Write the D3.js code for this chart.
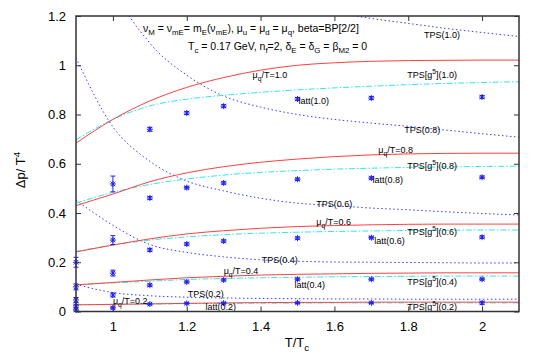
<!DOCTYPE html>
<html>
<head>
<meta charset="utf-8">
<script src="https://cdn.jsdelivr.net/npm/d3@7"></script>
<style>
  body { margin: 0; background: #fff; }
  text { font-family: "Liberation Sans", Arial, sans-serif; }
</style>
</head>
<body>
<div id="chart"></div>
<script>
// T/Tc grid for the model curves
const tGrid = [0.9, 1.0, 1.1, 1.2, 1.3, 1.4, 1.5, 1.6, 1.7, 1.8, 1.9, 2.0, 2.1];

// red: mu_q/T = ...
const red02 = [0.027, 0.029, 0.031, 0.033, 0.035, 0.036, 0.037, 0.037, 0.038, 0.038, 0.038, 0.038, 0.038];
const red04 = [0.108, 0.118, 0.128, 0.137, 0.143, 0.148, 0.151, 0.153, 0.155, 0.156, 0.157, 0.157, 0.157];
const red06 = [0.242, 0.270, 0.295, 0.315, 0.328, 0.338, 0.345, 0.349, 0.352, 0.354, 0.355, 0.355, 0.355];
const red08 = [0.430, 0.477, 0.527, 0.563, 0.588, 0.606, 0.619, 0.629, 0.636, 0.640, 0.642, 0.643, 0.643];
const red10 = [0.684, 0.780, 0.855, 0.910, 0.950, 0.980, 1.000, 1.010, 1.016, 1.019, 1.020, 1.021, 1.021];

// cyan: TPS[g^5]
const g5_02 = [0.027, 0.029, 0.030, 0.032, 0.033, 0.034, 0.034, 0.035, 0.035, 0.035, 0.035, 0.035, 0.035];
const g5_04 = [0.108, 0.116, 0.123, 0.130, 0.134, 0.137, 0.139, 0.141, 0.142, 0.143, 0.144, 0.144, 0.144];
const g5_06 = [0.244, 0.270, 0.290, 0.303, 0.312, 0.318, 0.322, 0.325, 0.327, 0.329, 0.330, 0.331, 0.331];
const g5_08 = [0.440, 0.484, 0.516, 0.538, 0.554, 0.565, 0.572, 0.578, 0.582, 0.585, 0.587, 0.589, 0.590];
const g5_10 = [0.697, 0.780, 0.835, 0.862, 0.878, 0.890, 0.900, 0.908, 0.915, 0.921, 0.926, 0.930, 0.933];

// blue dotted: TPS
const tps02 = [0.110, 0.077, 0.064, 0.058, 0.055, 0.053, 0.052, 0.051, 0.051, 0.050, 0.050, 0.050, 0.050];
const tps04 = [0.452, 0.350, 0.272, 0.240, 0.222, 0.210, 0.204, 0.201, 0.200, 0.199, 0.198, 0.197, 0.197];
const tps06 = [1.030, 0.750, 0.610, 0.530, 0.490, 0.460, 0.440, 0.430, 0.420, 0.413, 0.405, 0.398, 0.392];
const tps08 = [1.830, 1.330, 1.090, 0.960, 0.875, 0.830, 0.800, 0.780, 0.765, 0.752, 0.737, 0.722, 0.708];
const tps10 = [2.900, 2.100, 1.720, 1.500, 1.380, 1.300, 1.250, 1.215, 1.190, 1.170, 1.150, 1.133, 1.117];

// lattice points
const lattT = [0.9, 1.0, 1.1, 1.2, 1.3, 1.5, 1.7, 2.0];
const latt02 = [0.006, 0.015, 0.030, 0.033, 0.034, 0.035, 0.035, 0.035];
const latt04 = [0.023, 0.067, 0.107, 0.120, 0.128, 0.131, 0.131, 0.131];
const latt06 = [0.047, 0.156, 0.250, 0.274, 0.286, 0.298, 0.300, 0.302];
const latt08 = [0.100, 0.290, 0.461, 0.503, 0.522, 0.537, 0.542, 0.545];
const latt10 = [0.200, 0.518, 0.740, 0.806, 0.834, 0.863, 0.867, 0.871];
const err02 = [0.004, 0.004, 0.003, 0.003, 0.003, 0.003, 0.003, 0.006];
const err04 = [0.006, 0.008, 0.005, 0.004, 0.004, 0.004, 0.004, 0.004];
const err06 = [0.010, 0.012, 0.006, 0.005, 0.005, 0.005, 0.005, 0.005];
const err08 = [0.012, 0.018, 0.006, 0.005, 0.005, 0.005, 0.005, 0.005];
const err10 = [0.020, 0.032, 0.008, 0.006, 0.006, 0.006, 0.006, 0.006];

const xTicks = [1, 1.2, 1.4, 1.6, 1.8, 2];
const yTicks = [0, 0.2, 0.4, 0.6, 0.8, 1, 1.2];

// curve labels (text, T/Tc, value)
const labels = [
  ["TPS(1.0)", 1.843, 1.111],
  ["μ_{q}/T=1.0", 1.378, 0.948],
  ["TPS[g^{5}](1.0)", 1.797, 0.948],
  ["latt(1.0)", 1.503, 0.843],
  ["TPS(0.8)", 1.789, 0.725],
  ["μ_{q}/T=0.8", 1.719, 0.644],
  ["TPS[g^{5}](0.8)", 1.797, 0.579],
  ["latt(0.8)", 1.703, 0.522],
  ["TPS(0.6)", 1.551, 0.424],
  ["μ_{q}/T=0.6", 1.551, 0.351],
  ["TPS[g^{5}](0.6)", 1.797, 0.311],
  ["latt(0.6)", 1.708, 0.274],
  ["TPS(0.4)", 1.403, 0.197],
  ["μ_{q}/T=0.4", 1.300, 0.152],
  ["TPS[g^{5}](0.4)", 1.797, 0.108],
  ["latt(0.4)", 1.492, 0.095],
  ["TPS(0.2)", 1.203, 0.059],
  ["μ_{q}/T=0.2", 1.000, 0.030],
  ["latt(0.2)", 1.251, 0.006],
  ["TPS[g^{5}](0.2)", 1.797, 0.006]
];

const title1 = "ν_{M} = ν_{mE}= m_{E}(ν_{mE}), μ_{u} = μ_{d} = μ_{q}, beta=BP[2/2]";
const title2 = "T_{c} = 0.17 GeV, n_{f}=2, δ_{E} = δ_{G} = β_{M2} = 0";

const width = 545, height = 354;
const margin = { top: 16, right: 26, bottom: 42.5, left: 76 };
const innerW = width - margin.left - margin.right;
const innerH = height - margin.top - margin.bottom;

const svg = d3.select("#chart").append("svg")
    .attr("width", width)
    .attr("height", height);

const g = svg.append("g")
    .attr("transform", "translate(" + margin.left + "," + margin.top + ")");

const x = d3.scaleLinear().domain([0.9, 2.1]).range([0, innerW]);
const y = d3.scaleLinear().domain([0, 1.2]).range([innerH, 0]);

g.append("clipPath").attr("id", "clip")
  .append("rect").attr("width", innerW).attr("height", innerH);

// gnuplot style "enhanced" text with _{} and ^{}
function richText(sel, str, fs) {
    const parts = str.split(/([_^]\{[^}]*\})/).filter(s => s.length);
    let shift = 0;
    parts.forEach(p => {
        let t, s = 0, size = fs;
        if (p[0] === "_" || p[0] === "^") {
            t = p.slice(2, -1);
            s = p[0] === "_" ? fs * 0.3 : -fs * 0.4;
            size = fs * 0.75;
        } else {
            t = p;
        }
        sel.append("tspan")
            .attr("dy", s - shift)
            .attr("font-size", size)
            .text(t);
        shift = s;
    });
}

// axes, ticks pointing inward
const fmt = d => String(+d.toFixed(1));
const tickStyle = a => {
    a.select(".domain").remove();
    a.selectAll("line").attr("stroke", "#333").attr("stroke-width", 1);
    a.selectAll("text").attr("fill", "#000").attr("font-size", 13)
        .attr("font-family", "Liberation Sans, Arial, sans-serif");
};

g.append("g").attr("transform", "translate(0," + innerH + ")")
    .call(d3.axisBottom(x).tickValues(xTicks).tickFormat(fmt).tickSize(-5).tickPadding(10))
    .call(tickStyle);
g.append("g")
    .call(d3.axisTop(x).tickValues(xTicks).tickFormat("").tickSize(-5))
    .call(tickStyle);
g.append("g")
    .call(d3.axisLeft(y).tickValues(yTicks).tickFormat(fmt).tickSize(-5).tickPadding(10))
    .call(tickStyle);
g.append("g").attr("transform", "translate(" + innerW + ",0)")
    .call(d3.axisRight(y).tickValues(yTicks).tickFormat("").tickSize(-5))
    .call(tickStyle);

// curves
const line = vals => d3.line()
    .x((d, i) => x(tGrid[i]))
    .y(d => y(d))
    .curve(d3.curveMonotoneX)(vals);

const curves = g.append("g").attr("clip-path", "url(#clip)");

[tps02, tps04, tps06, tps08, tps10].forEach(v => {
    curves.append("path").attr("d", line(v))
        .attr("fill", "none").attr("stroke", "#3b3bff")
        .attr("stroke-width", 1).attr("stroke-dasharray", "1.5,2.5");
});
[g5_02, g5_04, g5_06, g5_08, g5_10].forEach(v => {
    curves.append("path").attr("d", line(v))
        .attr("fill", "none").attr("stroke", "#2ee8e8")
        .attr("stroke-width", 1).attr("stroke-dasharray", "6,2,1.5,2");
});
[red02, red04, red06, red08, red10].forEach(v => {
    curves.append("path").attr("d", line(v))
        .attr("fill", "none").attr("stroke", "#ff4040")
        .attr("stroke-width", 1);
});

// lattice points with error bars
const pts = g.append("g").attr("stroke", "#2222ee").attr("stroke-width", 1).attr("fill", "none");
[[latt02, err02], [latt04, err04], [latt06, err06], [latt08, err08], [latt10, err10]].forEach(([vals, errs]) => {
    vals.forEach((v, i) => {
        const cx = x(lattT[i]), cy = y(v);
        const y0 = y(v - errs[i]), y1 = y(v + errs[i]);
        pts.append("line").attr("x1", cx).attr("x2", cx).attr("y1", y0).attr("y2", y1);
        pts.append("line").attr("x1", cx - 2.5).attr("x2", cx + 2.5).attr("y1", y0).attr("y2", y0);
        pts.append("line").attr("x1", cx - 2.5).attr("x2", cx + 2.5).attr("y1", y1).attr("y2", y1);
        const r = 3;
        pts.append("path")
            .attr("d", `M${cx - r},${cy}H${cx + r}M${cx},${cy - r}V${cy + r}` +
                       `M${cx - r * 0.75},${cy - r * 0.75}L${cx + r * 0.75},${cy + r * 0.75}` +
                       `M${cx - r * 0.75},${cy + r * 0.75}L${cx + r * 0.75},${cy - r * 0.75}`);
    });
});

// labels on curves
labels.forEach(([t, lx, ly]) => {
    const tx = g.append("text")
        .attr("x", x(lx)).attr("y", y(ly))
        .attr("font-size", 9).attr("fill", "#000");
    richText(tx, t, 9);
});

// frame
g.append("rect").attr("width", innerW).attr("height", innerH)
    .attr("fill", "none").attr("stroke", "#333").attr("stroke-width", 1.5);

// title lines
const t1 = svg.append("text").attr("x", 143).attr("y", 32).attr("font-size", 10.5);
richText(t1, title1, 10.5);
const t2 = svg.append("text").attr("x", 188).attr("y", 50).attr("font-size", 10.5);
richText(t2, title2, 10.5);

// axis titles
const xt = svg.append("text").attr("x", 297).attr("y", 347)
    .attr("text-anchor", "middle").attr("font-size", 13);
richText(xt, "T/T_{c}", 13);

const yt = svg.append("text")
    .attr("transform", "translate(25,170) rotate(-90)")
    .attr("text-anchor", "middle").attr("font-size", 13);
richText(yt, "Δp/ T^{4}", 13);
</script>
</body>
</html>
